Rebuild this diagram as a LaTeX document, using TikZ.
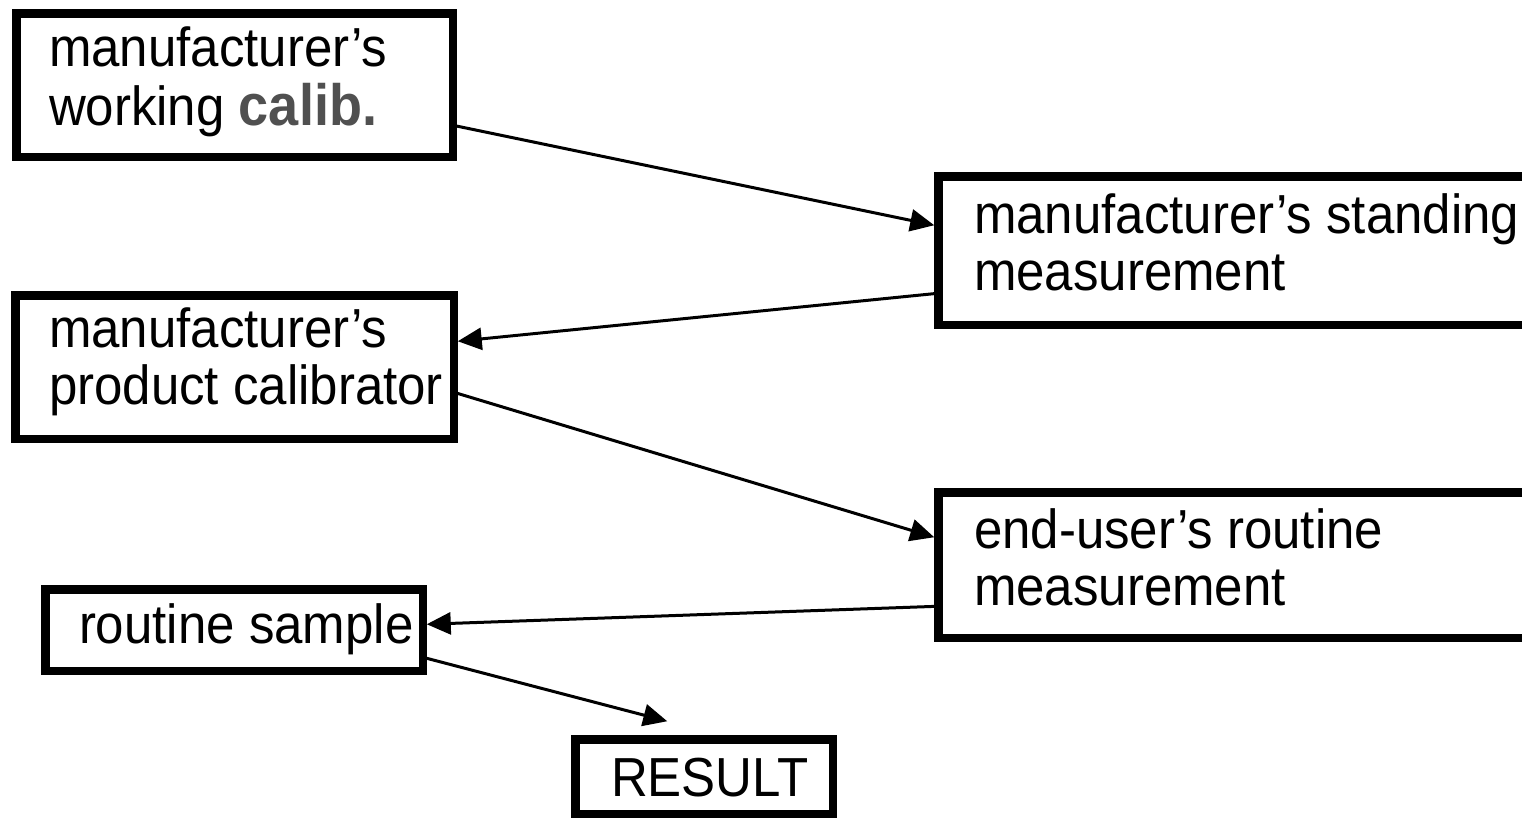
\documentclass[tikz,border=0pt]{standalone}
\usepackage{fontspec}
\usepackage{graphicx}
\setmainfont{Liberation Sans}
\usetikzlibrary{calc,arrows.meta}
\definecolor{calibgrey}{HTML}{505050}
% labels are set slightly wider and taller than the font's natural proportions
\newcommand{\tallset}[1]{\scalebox{1.02}[1.1]{#1}}
\newcommand{\twolines}[2]{\tallset{\begin{tabular}[t]{@{}l@{}}#1\\#2\end{tabular}}}
\begin{document}
\begin{tikzpicture}[x=1pt,y=-1pt,
  box/.style={draw=black, line width=8.5pt, fill=white, rectangle,
    inner sep=0pt, outer sep=0pt, anchor=north west},
  txt/.style={anchor=base west, inner sep=0pt, outer sep=0pt,
    font=\fontsize{50}{52.5}\selectfont},
  flow/.style={draw=black, line width=3pt,
    -{Triangle[length=24pt,width=22pt]}}
]
\path[use as bounding box, clip] (0,0) rectangle (1522,819);
\fill[white] (0,0) rectangle (1522,819);

% boxes
\node[box, minimum width=436.5pt, minimum height=143.5pt] (A) at (16.25,13.25) {};
\node[box, minimum width=600pt,   minimum height=148.5pt] (B) at (938.25,176.25) {};
\node[box, minimum width=438.5pt, minimum height=143.5pt] (C) at (15.25,295.25) {};
\node[box, minimum width=600pt,   minimum height=145.5pt] (D) at (938.25,492.25) {};
\node[box, minimum width=377.5pt, minimum height=81.5pt]  (E) at (45.25,589.25) {};
\node[box, minimum width=257.5pt, minimum height=74.5pt]  (F) at (575.25,739.25) {};

% box texts
\node[txt] (At) at (49,66)  {\twolines{manufacturer's}{working {\fontsize{53}{52.5}\selectfont\bfseries\color{calibgrey}calib.}}};
\node[txt] (Bt) at (974,233) {\twolines{manufacturer's standing}{measurement}};
\node[txt] (Ct) at (49,347) {\twolines{manufacturer's}{product calibrator}};
\node[txt] (Dt) at (974,548) {\twolines{end-user's routine}{measurement}};
\node[txt] (Et) at (79,643) {\tallset{routine sample}};
\node[txt] (Ft) at (611,796) {\tallset{RESULT}};

% free end of the last arrow, just above the RESULT box
\coordinate (Ftip) at ($(F.north west)+(92,-18)$);

% connectors
\draw[flow] ($(A.north east)+(0,112)$) -- ($(B.north west)+(-4,49)$);
\draw[flow] ($(B.north west)+(0,117)$) -- ($(C.north east)+(4,46)$);
\draw[flow] ($(C.north east)+(0,97)$)  -- ($(D.north west)+(-4,45)$);
\draw[flow] ($(D.north west)+(0,114)$) -- ($(E.north east)+(4,35)$);
\draw[flow] ($(E.north east)+(0,68)$)  -- (Ftip);
\end{tikzpicture}
\end{document}
